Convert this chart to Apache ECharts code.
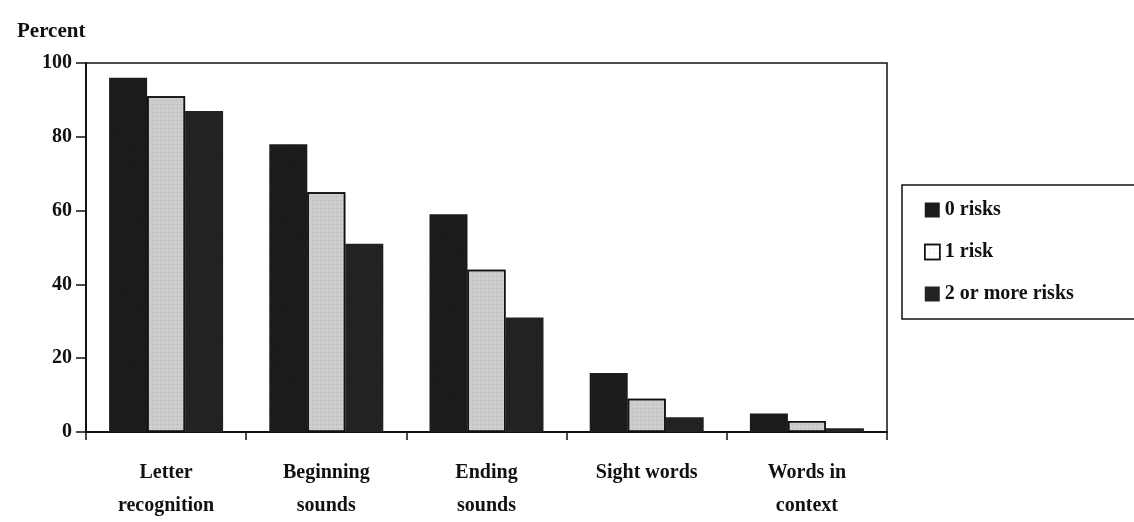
<!DOCTYPE html>
<html>
<head>
<meta charset="utf-8">
<script src="https://cdn.jsdelivr.net/npm/echarts@6/dist/echarts.min.js"></script>
<style>
    html, body { margin: 0; padding: 0; background: #fff; }
    #chart { width: 1134px; height: 522px; }
</style>
</head>
<body>
<div id="chart"></div>
<script>
const categories = ['Letter\nrecognition', 'Beginning\nsounds', 'Ending\nsounds', 'Sight words', 'Words in\ncontext'];
const seriesNames = ['0 risks', '1 risk', '2 or more risks'];
const zeroRisks = [96, 78, 59, 16, 5];
const oneRisk = [91, 65, 44, 9, 3];
const twoPlusRisks = [87, 51, 31, 4, 1];
const yTicks = [0, 20, 40, 60, 80, 100];

const font = '"Liberation Serif", "DejaVu Serif", serif';

let chart = echarts.init(document.getElementById('chart'));

let option = {
    backgroundColor: '#fff',
    textStyle: { fontFamily: font },
    title: {
        text: 'Percent',
        left: 12,
        top: 16,
        textStyle: { fontFamily: font, fontSize: 21, fontWeight: 'bold', color: '#111' }
    },
    grid: {
        left: 86,
        right: 247,
        top: 63,
        bottom: 84,
        show: true,
        borderColor: '#111',
        borderWidth: 1.5
    },
    legend: {
        orient: 'vertical',
        left: 902,
        top: 185,
        padding: [15, 80, 15, 22],
        itemGap: 22,
        itemWidth: 15,
        itemHeight: 15,
        icon: 'rect',
        borderColor: '#111',
        borderWidth: 1.5,
        textStyle: { fontFamily: font, fontSize: 20, fontWeight: 'bold', color: '#111' },
        data: [
            { name: seriesNames[0] },
            { name: seriesNames[1], itemStyle: { color: '#fff', borderColor: '#111', borderWidth: 1.5 } },
            { name: seriesNames[2] }
        ]
    },
    xAxis: {
        type: 'category',
        data: categories,
        axisLine: { lineStyle: { color: '#111', width: 2 } },
        axisTick: { show: true, length: 8, inside: false, lineStyle: { color: '#111', width: 1.5 } },
        axisLabel: {
            fontFamily: font, fontSize: 20, fontWeight: 'bold', color: '#111',
            margin: 24, lineHeight: 33
        }
    },
    yAxis: {
        type: 'value',
        min: 0,
        max: 100,
        interval: 20,
        axisLine: { show: true, lineStyle: { color: '#111', width: 2 } },
        axisTick: { show: true, length: 10, lineStyle: { color: '#111', width: 1.5 } },
        splitLine: { show: false },
        axisLabel: {
            fontFamily: font, fontSize: 20, fontWeight: 'bold', color: '#111', margin: 14,
            formatter: v => yTicks.includes(v) ? String(v) : ''
        }
    },
    series: [
        {
            name: seriesNames[0],
            type: 'bar',
            data: zeroRisks,
            barWidth: 38,
            barGap: '0%',
            itemStyle: {
                color: '#1b1b1b',
                decal: { symbol: 'circle', symbolSize: 0.4, color: 'rgba(255,255,255,0.4)', dashArrayX: [[1, 6]], dashArrayY: [1, 7], rotation: 0.4 }
            }
        },
        {
            name: seriesNames[1],
            type: 'bar',
            data: oneRisk,
            barWidth: 38,
            barGap: '0%',
            itemStyle: {
                color: '#cdcdcd',
                borderColor: '#111',
                borderWidth: 1.5,
                decal: { symbol: 'rect', symbolSize: 0.6, color: 'rgba(90,90,90,0.45)', dashArrayX: [[2, 2]], dashArrayY: [1, 3], rotation: 0 }
            }
        },
        {
            name: seriesNames[2],
            type: 'bar',
            data: twoPlusRisks,
            barWidth: 38,
            barGap: '0%',
            itemStyle: {
                color: '#222',
                decal: { symbol: 'circle', symbolSize: 0.4, color: 'rgba(255,255,255,0.35)', dashArrayX: [[1, 7]], dashArrayY: [1, 6], rotation: -0.3 }
            }
        }
    ]
};

option && chart.setOption(option);
</script>
</body>
</html>
